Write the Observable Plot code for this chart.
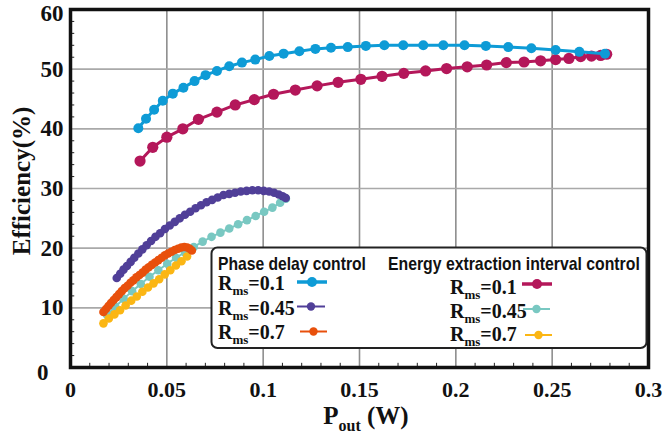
<!DOCTYPE html>
<html><head><meta charset="utf-8">
<script src="https://cdn.jsdelivr.net/npm/d3@7"></script>
<script src="https://cdn.jsdelivr.net/npm/@observablehq/plot@0.6"></script>
<style>
body{margin:0;background:#fff}
#chart{width:663px;height:439px;position:relative;overflow:hidden}
</style>
</head><body><div id="chart"></div>
<script>
// ---- tick labels ----
const xTicks = [0, 0.05, 0.1, 0.15, 0.2, 0.25, 0.3];
const yTicks = [10, 20, 30, 40, 50];
const yTop = [60];
const yZero = [0];
const xGrid = [0.05, 0.1, 0.15, 0.2, 0.25];
const yGrid = [10, 20, 30, 40, 50];

// ---- Phase delay control, Rms = 0.1 ----
const pd01X = [0.0352,0.0392,0.0434,0.0479,0.0531,0.0586,0.0644,0.0701,0.0760,0.0824,0.0890,0.0959,0.1032,0.1106,0.1188,0.1271,0.1352,0.1439,0.1533,0.1629,0.1727,0.1831,0.1935,0.2045,0.2156,0.2272,0.2392,0.2518,0.2641,0.2774];
const pd01Y = [40.1,41.7,43.2,44.7,45.9,46.9,48.0,49.0,49.7,50.5,51.1,51.6,52.2,52.6,53.0,53.4,53.6,53.7,53.9,54.0,54.0,54.0,54.0,54.0,53.9,53.7,53.5,53.2,52.9,52.6];

// ---- Phase delay control, Rms = 0.45 ----
const pd045X = [0.0240,0.0258,0.0275,0.0293,0.0312,0.0331,0.0352,0.0373,0.0395,0.0418,0.0441,0.0465,0.0490,0.0515,0.0541,0.0567,0.0594,0.0621,0.0649,0.0677,0.0706,0.0735,0.0764,0.0794,0.0824,0.0854,0.0884,0.0914,0.0944,0.0974,0.1003,0.1031,0.1057,0.1081,0.1101,0.1117];
const pd045Y = [15.0,15.7,16.4,17.0,17.7,18.4,19.1,19.8,20.5,21.2,21.9,22.5,23.2,23.8,24.4,25.0,25.6,26.1,26.7,27.2,27.7,28.1,28.5,28.9,29.1,29.3,29.5,29.6,29.7,29.7,29.6,29.5,29.3,29.0,28.7,28.4];

// ---- Phase delay control, Rms = 0.7 ----
const pd07X = [0.0171,0.0184,0.0197,0.0210,0.0224,0.0238,0.0252,0.0266,0.0281,0.0296,0.0311,0.0326,0.0342,0.0358,0.0374,0.0390,0.0406,0.0422,0.0439,0.0456,0.0473,0.0490,0.0507,0.0524,0.0541,0.0558,0.0575,0.0591,0.0606,0.0619,0.0630];
const pd07Y = [9.3,9.8,10.3,10.8,11.3,11.8,12.3,12.8,13.3,13.7,14.2,14.6,15.1,15.5,15.9,16.4,16.8,17.2,17.6,18.0,18.4,18.8,19.1,19.4,19.7,19.9,20.1,20.2,20.1,19.9,19.6];

// ---- Energy extraction interval control, Rms = 0.1 ----
const eei01X = [0.0361,0.0427,0.0500,0.0583,0.0664,0.0760,0.0855,0.0954,0.1054,0.1167,0.1280,0.1389,0.1507,0.1617,0.1730,0.1843,0.1952,0.2059,0.2160,0.2262,0.2354,0.2440,0.2518,0.2587,0.2648,0.2704,0.2752,0.2783];
const eei01Y = [34.6,36.9,38.6,40.0,41.6,42.8,44.0,44.9,45.8,46.5,47.2,47.8,48.3,48.8,49.3,49.7,50.1,50.4,50.7,51.1,51.2,51.4,51.6,51.8,52.1,52.2,52.3,52.5];

// ---- Energy extraction interval control, Rms = 0.45 ----
const eei045X = [0.0190,0.0232,0.0276,0.0320,0.0365,0.0410,0.0456,0.0502,0.0548,0.0594,0.0640,0.0686,0.0732,0.0778,0.0824,0.0870,0.0916,0.0961,0.1005,0.1048,0.1088,0.1118];
const eei045Y = [8.8,10.2,11.5,12.8,14.0,15.2,16.3,17.4,18.4,19.3,20.2,21.1,21.9,22.6,23.3,24.0,24.7,25.4,26.1,26.8,27.6,28.3];

// ---- Energy extraction interval control, Rms = 0.7 ----
const eei07X = [0.0171,0.0199,0.0228,0.0257,0.0286,0.0315,0.0344,0.0373,0.0402,0.0431,0.0460,0.0489,0.0518,0.0547,0.0576,0.0605];
const eei07Y = [7.4,8.2,8.9,9.6,10.4,11.2,11.9,12.7,13.4,14.1,14.8,15.6,16.3,17.1,17.8,18.6];

// legend text
const groupTitles = ["Phase delay control", "Energy extraction interval control"];
const rmsLabels = ["0.1", "0.45", "0.7"];

const series = [
  {key:"eei01",  x:eei01X,  y:eei01Y,  color:"#b4175a", r:5.6, sw:3},
  {key:"eei045", x:eei045X, y:eei045Y, color:"#79c8c2", r:4.3, sw:2},
  {key:"eei07",  x:eei07X,  y:eei07Y,  color:"#fbb614", r:4.3, sw:2},
  {key:"pd01",   x:pd01X,   y:pd01Y,   color:"#0e9bd6", r:5.0, sw:3},
  {key:"pd045",  x:pd045X,  y:pd045Y,  color:"#503f98", r:4.3, sw:2},
  {key:"pd07",   x:pd07X,   y:pd07Y,   color:"#e8500c", r:4.3, sw:2}
];
const rows = series.flatMap(s => s.x.map((x, i) => ({key: s.key, x, y: s.y[i]})));

const minorX = d3.range(1, 30).filter(i => i % 5).map(i => i / 100);
const minorY = d3.range(1, 30).filter(i => i % 5).map(i => i * 2);

const serif = "'Liberation Serif','Times New Roman',serif";
const axisFont = {fontSize: 23, fontWeight: "bold", fontFamily: serif, fill: "#111"};

const seriesMarks = series.flatMap(s => {
  const d = rows.filter(r => r.key === s.key);
  return [
    Plot.line(d, {x: "x", y: "y", stroke: s.color, strokeWidth: s.sw}),
    Plot.dot(d, {x: "x", y: "y", fill: s.color, r: s.r, stroke: "none"})
  ];
});

const plot = Plot.plot({
  width: 663, height: 439,
  marginLeft: 70, marginRight: 15, marginTop: 9, marginBottom: 72,
  x: {domain: [0, 0.3]},
  y: {domain: [0, 60]},
  style: {background: "white", overflow: "visible"},
  marks: [
    Plot.gridX(xGrid, {stroke: "#8e8e8e", strokeOpacity: 1, strokeWidth: 1.6}),
    Plot.gridY(yGrid, {stroke: "#a9a9a9", strokeOpacity: 1, strokeWidth: 1.6}),
    Plot.ruleX(minorX, {y1: 0, y2: 0.7, stroke: "#222", strokeWidth: 1}),
    Plot.ruleY(minorY, {x1: 0, x2: 0.0022, stroke: "#222", strokeWidth: 1}),
    ...seriesMarks,
    Plot.axisX(xTicks, {tickSize: 0, tickPadding: 14, label: null, tickFormat: d => String(d), ...axisFont, fontSize: 22}),
    Plot.axisY(yTicks, {tickSize: 0, tickPadding: 7, label: null, tickFormat: d => String(d), ...axisFont}),
    Plot.axisY(yTop, {tickSize: 0, tickPadding: 7, dy: 4, label: null, tickFormat: d => String(d), ...axisFont}),
    Plot.axisY(yZero, {tickSize: 0, tickPadding: 22, dy: 5, label: null, tickFormat: d => String(d), ...axisFont}),
    Plot.frame({stroke: "#111", strokeWidth: 3.5})
  ]
});
document.getElementById("chart").appendChild(plot);

const svg = d3.select(plot);

// Axis titles
svg.append("text")
  .attr("transform", "translate(30,181) rotate(-90)")
  .attr("text-anchor", "middle")
  .style("font", `bold 25px ${serif}`).attr("fill", "#111")
  .text("Efficiency(%)");

const xt = svg.append("text")
  .attr("x", 366).attr("y", 424)
  .attr("text-anchor", "middle")
  .style("font", `bold 25px ${serif}`).attr("fill", "#111");
xt.append("tspan").text("P");
xt.append("tspan").attr("dy", 7).style("font-size", "16px").text("out");
xt.append("tspan").attr("dy", -7).text(" (W)");

// Legend
const lg = svg.append("g").attr("text-anchor", "start");
lg.append("rect").attr("x", 211.5).attr("y", 247.5).attr("width", 435).attr("height", 100.5)
  .attr("rx", 6).attr("fill", "white").attr("stroke", "#222").attr("stroke-width", 2);

const sans = "'Liberation Sans Narrow','Arial Narrow','Liberation Sans',Arial,sans-serif";
[[groupTitles[0], 218, 148], [groupTitles[1], 388, 252]].forEach(([txt, x0, w]) => {
  const t = lg.append("text").attr("x", 0).attr("y", 0).attr("text-anchor", "start")
    .style("font", `bold 18px ${sans}`).attr("fill", "#111").text(txt);
  const natural = t.node().getComputedTextLength() || w;
  t.attr("transform", `translate(${x0},270) scale(${w / natural},1)`);
});

const leftCol = [
  {s: series[3], tx: 218, ty: 290, sx0: 297, sx1: 327, sy: 282},
  {s: series[4], tx: 218, ty: 315, sx0: 297, sx1: 325, sy: 306.5},
  {s: series[5], tx: 218, ty: 338.5, sx0: 300, sx1: 327, sy: 331.5}
];
const rightCol = [
  {s: series[0], tx: 450, ty: 294, sx0: 522, sx1: 552, sy: 284},
  {s: series[1], tx: 450, ty: 318, sx0: 523, sx1: 550, sy: 309},
  {s: series[2], tx: 450, ty: 340.5, sx0: 525, sx1: 552, sy: 335}
];
[leftCol, rightCol].forEach(col => col.forEach((it, i) => {
  const t = lg.append("text").attr("x", it.tx).attr("y", it.ty).attr("text-anchor", "start")
    .style("font", `bold 20px ${serif}`).attr("fill", "#111");
  t.append("tspan").text("R");
  t.append("tspan").attr("dy", 5).style("font-size", "13px").text("ms");
  t.append("tspan").attr("dy", -5).text("=" + rmsLabels[i]);
  lg.append("line").attr("x1", it.sx0).attr("x2", it.sx1).attr("y1", it.sy).attr("y2", it.sy)
    .attr("stroke", it.s.color).attr("stroke-width", it.s.sw === 3 ? 3.5 : 2);
  lg.append("circle").attr("cx", (it.sx0 + it.sx1) / 2).attr("cy", it.sy)
    .attr("r", it.s.sw === 3 ? 5 : 4.2).attr("fill", it.s.color);
}));
</script>
</body></html>
